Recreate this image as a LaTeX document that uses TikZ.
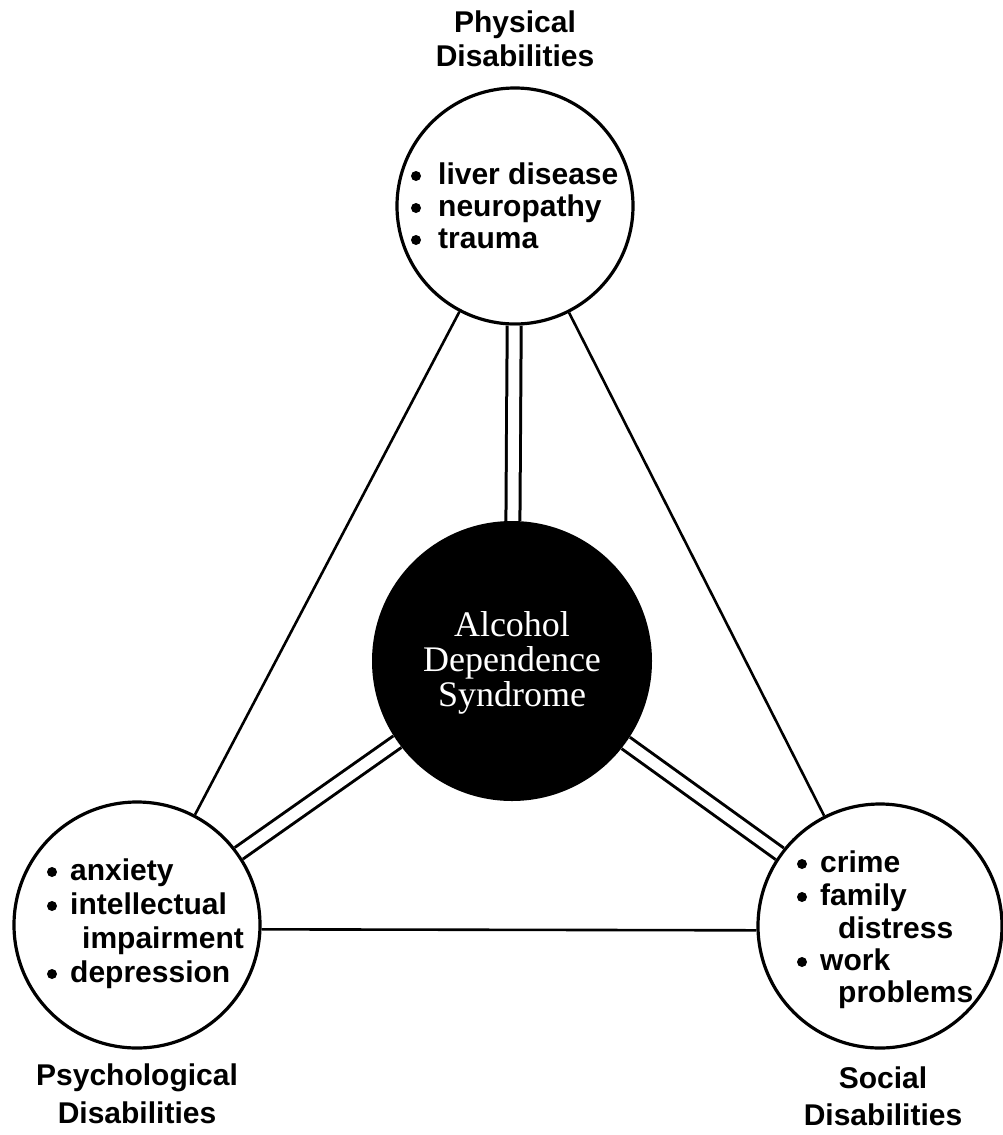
\documentclass[tikz,border=0pt]{standalone}
\usepackage{fontspec}
\setmainfont{Liberation Sans}
\newfontfamily\centerfont{Liberation Serif}
\begin{document}
\begin{tikzpicture}[x=1pt,y=-1pt]
\useasboundingbox[fill=white] (0,0) rectangle (1002,1135);
\tikzset{
  ring/.style={circle, draw, line width=3.2pt, inner sep=0pt, fill=white},
  link/.style={line width=2.6pt},
  dlink/.style={double, double distance=11pt, line width=3pt},
  lbl/.style={font=\bfseries\fontsize{30}{34}\selectfont, align=center, anchor=base, inner sep=0pt},
  item/.style={font=\bfseries\fontsize{30}{34}\selectfont, anchor=base west, inner sep=0pt},
  dot/.style={circle, fill=black, inner sep=0pt, minimum size=10pt},
  ctext/.style={font=\centerfont\fontsize{36}{36}\selectfont, text=white, anchor=base, inner sep=0pt},
}
% circles
\node[ring, minimum size=236pt] (phys) at (515,206) {};
\node[ring, minimum size=246pt] (psych) at (137,925) {};
\node[ring, minimum size=244pt] (soc) at (880,926) {};
\node[circle, fill=black, minimum size=280pt, inner sep=0pt] (ads) at (512,661) {};
% connectors
\draw[link] (phys) -- (psych);
\draw[link] (phys) -- (soc);
\draw[link] (psych.-2) -- (soc.182);
\draw[dlink] (ads) -- (phys);
\draw[dlink] (ads) -- (psych);
\draw[dlink] (ads) -- (soc);
% centre text
\node[ctext] (c1) at (512,636) {Alcohol};
\node[ctext] (c2) at (512,671) {Dependence};
\node[ctext] (c3) at (512,706) {Syndrome};
% labels
\node[lbl] (l1a) at (515,32) {Physical};
\node[lbl] (l1b) at (515,66) {Disabilities};
\node[lbl] (l2a) at (137,1085) {Psychological};
\node[lbl] (l2b) at (137,1123) {Disabilities};
\node[lbl] (l3a) at (883,1088) {Social};
\node[lbl] (l3b) at (883,1125) {Disabilities};
% physical items
\node[dot] (b11) at (416,176) {};
\node[item] (t11) at (438,184) {liver disease};
\node[dot] (b12) at (416,208) {};
\node[item] (t12) at (438,216) {neuropathy};
\node[dot] (b13) at (416,240) {};
\node[item] (t13) at (438,248) {trauma};
% psychological items
\node[dot] (b21) at (52,872) {};
\node[item] (t21) at (70,880) {anxiety};
\node[dot] (b22) at (52,906) {};
\node[item] (t22) at (70,914) {intellectual};
\node[item] (t23) at (82,948) {impairment};
\node[dot] (b24) at (52,974) {};
\node[item] (t24) at (70,982) {depression};
% social items
\node[dot] (b31) at (802,864) {};
\node[item] (t31) at (820,872) {crime};
\node[dot] (b32) at (802,897) {};
\node[item] (t32) at (820,905) {family};
\node[item] (t33) at (838,938) {distress};
\node[dot] (b34) at (802,962) {};
\node[item] (t34) at (820,970) {work};
\node[item] (t35) at (838,1002) {problems};
\end{tikzpicture}
\end{document}
